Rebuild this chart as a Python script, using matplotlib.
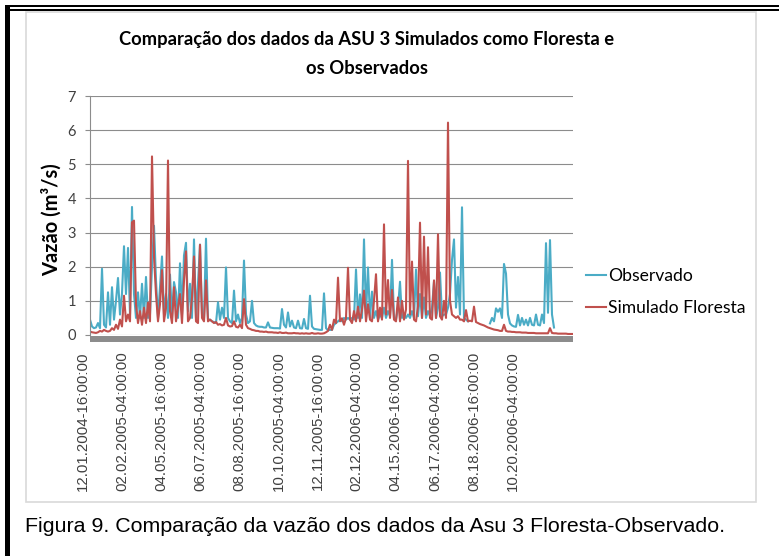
import numpy as np
import matplotlib
matplotlib.use("Agg")
import matplotlib.pyplot as plt
from matplotlib.patches import Rectangle
import matplotlib.transforms as mtransforms

nan = np.nan

title_line1 = "Comparação dos dados da ASU 3 Simulados como Floresta e"
title_line2 = "os Observados"
y_label = "Vazão (m³/s)"
caption = "Figura 9. Comparação da vazão dos dados da Asu 3 Floresta-Observado."
series_names = ["Observado", "Simulado Floresta"]

x_labels = ["12.01.2004-16:00:00", "02.02.2005-04:00:00", "04.05.2005-16:00:00",
            "06.07.2005-04:00:00", "08.08.2005-16:00:00", "10.10.2005-04:00:00",
            "12.11.2005-16:00:00", "02.12.2006-04:00:00", "04.15.2006-16:00:00",
            "06.17.2006-04:00:00", "08.18.2006-16:00:00", "10.20.2006-04:00:00"]

observado = [
    0.45, 0.25, 0.20, 0.22, 0.35, 0.20, 1.94, 0.30, 0.22, 1.25,
    0.30, 1.40, 0.45, 1.00, 1.67, 0.60, 1.22, 2.60, 1.20, 2.55,
    0.60, 3.75, 1.20, 0.50, 1.25, 0.50, 1.50, 0.50, 1.70, 0.50,
    0.60, 2.00, 3.20, 1.60, 0.50, 1.40, 2.30, 0.60, 1.20, 0.50,
    1.77, 0.50, 1.55, 1.25, 0.50, 2.10, 0.60, 2.33, 2.70, 0.70,
    1.50, 0.50, 2.80, 0.50, 1.50, 2.65, 0.60, 0.50, 2.82, 0.45,
    0.45, 0.40, 0.38, 0.35, 0.96, 0.45, 0.80, 0.50, 1.98, 0.50,
    0.40, 0.35, 1.30, 0.40, 0.60, 0.35, 0.50, 2.18, 0.60, 0.35,
    0.40, 1.00, 0.35, 0.28, 0.25, 0.24, 0.24, 0.22, 0.22, 0.37,
    0.22, 0.21, 0.20, 0.20, 0.20, 0.19, 0.76, 0.30, 0.22, 0.66,
    0.25, 0.42, 0.22, 0.20, 0.42, 0.20, 0.19, 0.47, 0.20, 0.18,
    1.15, 0.25, 0.18, 0.17, 0.16, 0.15, 0.15, 1.22, 0.20, 0.14,
    0.15, 0.15, 0.30, 0.35, 0.40, 0.45, 0.40, 0.50, 0.45, 0.50,
    0.45, 0.50, 0.45, 1.92, 0.50, 1.19, 0.50, 2.80, 0.60, 1.98,
    0.50, 1.27, 0.50, 0.70, 0.45, 0.60, 0.50, 0.80, 0.50, 0.70,
    0.55, 2.20, 0.50, 0.45, 0.80, 1.56, 0.50, 0.60, 0.50, 0.60,
    0.50, 0.70, 0.50, 1.92, 0.55, 1.20, 0.50, 1.10, 0.50, 0.70,
    0.55, 0.80, 1.56, 0.50, 0.80, 1.83, 0.55, 0.60, 0.60, 0.80,
    1.20, 2.20, 2.80, 0.80, 1.70, 0.60, 3.74, 0.50, 0.45, 0.40,
    nan, nan, nan, nan, nan, nan, nan, nan, nan, nan,
    0.34, 0.50, 0.40, 0.78, 0.68, 0.78, 0.50, 2.08, 1.80, 0.60,
    0.34, 0.28, 0.25, 0.24, 0.59, 0.28, 0.50, 0.30, 0.45, 0.28,
    0.50, 0.30, 0.28, 0.60, 0.30, 0.28, 0.60, 0.35, 2.69, 0.65,
    2.78, 0.60, 0.22, nan, nan, nan, nan, nan, nan, nan, nan, nan,
]

simulado = [
    0.10, 0.08, 0.07, 0.06, 0.08, 0.12, 0.10, 0.15, 0.12, 0.10,
    0.12, 0.20, 0.15, 0.30, 0.18, 0.45, 0.25, 1.15, 0.40, 0.60,
    0.40, 3.30, 3.35, 0.90, 0.35, 0.70, 0.30, 0.80, 0.35, 0.95,
    0.40, 5.23, 2.30, 1.20, 0.40, 0.90, 1.90, 0.40, 0.80, 5.11,
    0.70, 0.35, 1.40, 0.40, 0.80, 1.20, 0.35, 1.60, 2.45, 0.40,
    0.50, 1.10, 2.30, 0.40, 0.35, 2.64, 0.50, 0.40, 1.60, 0.40,
    0.45, 0.40, 0.35, 0.38, 0.30, 0.32, 0.28, 0.30, 0.50, 0.28,
    0.25, 0.26, 0.40, 0.24, 0.22, 0.30, 0.20, 1.05, 0.30, 0.20,
    0.18, 0.15, 0.14, 0.12, 0.12, 0.10, 0.10, 0.09, 0.10, 0.08,
    0.08, 0.08, 0.07, 0.07, 0.06, 0.08, 0.06, 0.06, 0.07, 0.05,
    0.05, 0.05, 0.06, 0.05, 0.05, 0.04, 0.05, 0.04, 0.05, 0.04,
    0.04, 0.06, 0.04, 0.04, 0.05, 0.04, 0.04, 0.05, 0.08, 0.12,
    0.30, 0.15, 0.45, 0.35, 1.68, 0.40, 0.49, 0.30, 0.50, 1.97,
    0.45, 0.35, 0.70, 0.40, 0.83, 0.40, 0.75, 1.30, 0.40, 0.90,
    0.45, 0.40, 1.00, 1.78, 0.40, 0.80, 0.45, 3.24, 0.60, 1.61,
    0.50, 1.32, 0.45, 0.40, 1.10, 0.40, 1.00, 0.45, 0.75, 5.10,
    0.60, 2.15, 0.45, 0.40, 0.85, 3.29, 0.50, 2.88, 0.60, 2.57,
    0.50, 0.45, 1.60, 0.50, 2.95, 0.55, 0.45, 1.00, 0.50, 6.22,
    1.00, 0.60, 0.55, 0.50, 0.55, 0.45, 0.45, 0.40, 0.73, 0.40,
    0.42, 0.40, 0.83, 0.38, 0.35, 0.32, 0.30, 0.28, 0.25, 0.22,
    0.20, 0.18, 0.16, 0.15, 0.14, 0.12, 0.12, 0.30, 0.12, 0.10,
    0.10, 0.09, 0.09, 0.08, 0.08, 0.08, 0.07, 0.07, 0.07, 0.06,
    0.06, 0.06, 0.06, 0.05, 0.05, 0.05, 0.05, 0.05, 0.05, 0.05,
    0.20, 0.06, 0.05, 0.05, 0.04, 0.04, 0.04, 0.04, 0.04, 0.03, 0.03, 0.03,
]

W, H = 779, 556
fig = plt.figure(figsize=(W / 100, H / 100), dpi=100)
fig.patch.set_facecolor("white")


def px_rect(x0, y0, x1, y1, **kw):
    return Rectangle((x0 / W, 1 - y1 / H), (x1 - x0) / W, (y1 - y0) / H,
                     transform=fig.transFigure, **kw)


# outer frame (black) and inner chart border (light gray)
fig.patches.append(px_rect(5, 5, 10, 556, facecolor="black", edgecolor="none"))
fig.patches.append(px_rect(5, 5, 779, 7, facecolor="black", edgecolor="none"))
fig.patches.append(px_rect(5, 8.5, 779, 11, facecolor="black", edgecolor="none"))
fig.patches.append(px_rect(26, 11.5, 756, 502, facecolor="none", edgecolor="#d9d9d9", lw=1.2))

ax = fig.add_axes([90 / W, 1 - 335 / H, 483 / W, (335 - 96) / H])
x = np.arange(len(observado))
blue = "#4BACC6"
red = "#C0504D"
ax.plot(x, observado, color=blue, lw=1.5, label=series_names[0])
ax.plot(x, simulado, color=red, lw=1.5, label=series_names[1])

ax.set_xlim(0, len(observado) - 0.5)
ax.set_ylim(0, 7)
ax.set_yticks(range(0, 8))
ax.yaxis.grid(True, color="#8c8c8c", lw=0.8)
ax.set_axisbelow(True)
for s in ("top", "right"):
    ax.spines[s].set_visible(False)
ax.spines["left"].set_color("#8c8c8c")
ax.spines["left"].set_linewidth(0.8)
ax.spines["bottom"].set_color("#8c8c8c")
ax.spines["bottom"].set_linewidth(4.3)
ax.spines["bottom"].set_position(("outward", 3))
ax.spines["bottom"].set_capstyle("butt")
ax.tick_params(axis="y", direction="out", length=3.6, width=0.8, color="#8c8c8c",
               pad=6.5, labelsize=10.5, labelcolor="#404040")
for lab in ax.get_yticklabels():
    lab.set_family("Lato")

tick_pos = np.arange(len(x_labels)) * 19.55
ax.set_xticks(tick_pos)
ax.set_xticklabels(x_labels, rotation=90, fontsize=10.8, family="Liberation Sans",
                   color="#404040")
ax.tick_params(axis="x", length=0, pad=9)
offset = mtransforms.ScaledTranslation(-7 / 100, 0, fig.dpi_scale_trans)
for lab in ax.get_xticklabels():
    lab.set_transform(lab.get_transform() + offset)

ax.set_ylabel(y_label, fontsize=14.5, fontweight="bold", family="Lato", color="black")
ax.yaxis.set_label_coords(62 / W, 1 - 220 / H, transform=fig.transFigure)

fig.text(367 / W, 1 - 40 / H, title_line1, ha="center", va="center", fontsize=13.2,
         fontweight="bold", family="Lato")
fig.text(367 / W, 1 - 68 / H, title_line2, ha="center", va="center", fontsize=13.2,
         fontweight="bold", family="Lato")

leg = fig.legend(loc="center left", bbox_to_anchor=(586 / W, 1 - 292 / H),
                 bbox_transform=fig.transFigure, frameon=False,
                 handlelength=1.15, handletextpad=0.1, labelspacing=0.95,
                 borderpad=0, borderaxespad=0, prop={"family": "Lato", "size": 12.6})

fig.text(25 / W, 1 - 527 / H, caption, ha="left", va="center", fontsize=15.4,
         family="Liberation Sans", color="black")

fig.savefig("out.png", dpi=100)
